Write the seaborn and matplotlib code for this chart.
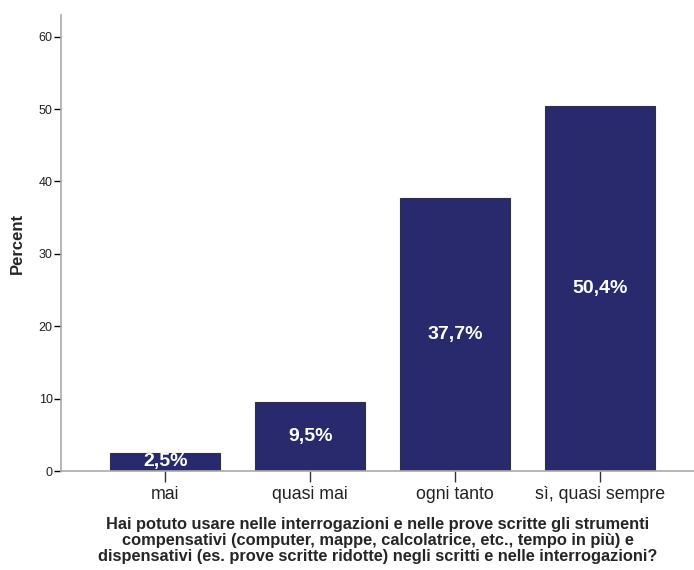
import matplotlib
matplotlib.use("Agg")
import matplotlib.pyplot as plt
import pandas as pd
import seaborn as sns

categories = ["mai", "quasi mai", "ogni tanto", "sì, quasi sempre"]
percent = [2.5, 9.5, 37.7, 50.4]
bar_labels = ["2,5%", "9,5%", "37,7%", "50,4%"]
x_title = ("Hai potuto usare nelle interrogazioni e nelle prove scritte gli strumenti\n"
           "compensativi (computer, mappe, calcolatrice, etc., tempo in più) e\n"
           "dispensativi (es. prove scritte ridotte) negli scritti e nelle interrogazioni?")

df = pd.DataFrame({"risposta": categories, "Percent": percent})

sns.set_style("white")
plt.rcParams["font.family"] = ["Liberation Sans", "DejaVu Sans"]

fig = plt.figure(figsize=(6.94, 5.70), dpi=100)
ax = fig.add_axes([61 / 694, 99 / 570, 633 / 694, 456 / 570])

sns.barplot(data=df, x="risposta", y="Percent", color="#29296e", saturation=1,
            width=0.76, edgecolor="#333333", linewidth=0.8, ax=ax)

for i, (v, lab) in enumerate(zip(percent, bar_labels)):
    ax.text(i, v / 2, lab, ha="center", va="center", color="white",
            fontsize=14, fontweight="bold")

ax.set_xlim(-0.72, 3.65)
ax.set_ylim(0, 63)
ax.set_yticks(range(0, 61, 10))

for s in ["top", "right"]:
    ax.spines[s].set_visible(False)
for s in ["left", "bottom"]:
    ax.spines[s].set_color("#aaaaaa")
    ax.spines[s].set_linewidth(1.2)

ax.tick_params(axis="y", direction="out", length=5, width=1, color="black",
               labelsize=9, labelcolor="#222222", pad=1, left=True)
ax.tick_params(axis="x", direction="out", length=8, width=1, color="#333333",
               labelsize=12.8, labelcolor="#222222", pad=3, bottom=True)

ax.set_ylabel("Percent", fontsize=12, fontweight="bold", labelpad=10)
ax.set_xlabel(x_title, fontsize=11.8, fontweight="bold", labelpad=10, linespacing=1.08)

fig.savefig("out.png", dpi=100)
